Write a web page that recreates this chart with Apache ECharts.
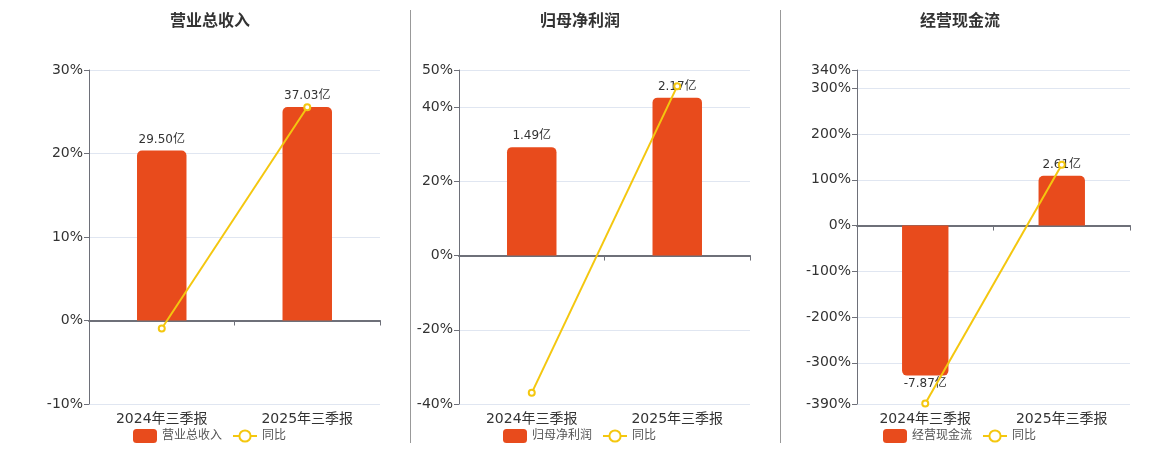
<!DOCTYPE html>
<html>
<head>
<meta charset="utf-8">
<script src="https://cdn.jsdelivr.net/npm/echarts@6/dist/echarts.min.js"></script>
<style>
  html, body { margin: 0; padding: 0; background: #fff; }
  #chart { width: 1160px; height: 450px; }
</style>
</head>
<body>
<div id="chart"></div>
<script>
const categories = ['2024年三季报', '2025年三季报'];
const panelNames = ['营业总收入', '归母净利润', '经营现金流'];

// bar values in 亿, yoy in %
const revenue = [29.50, 37.03];
const revenueYoy = [-0.96, 25.53];
const netProfit = [1.49, 2.17];
const netProfitYoy = [-37.0, 45.64];
const cashFlow = [-7.87, 2.61];
const cashFlowYoy = [-389, 133.16];

// percent axis ticks (first/last are the axis ends)
const pctTicks1 = [-10, 0, 10, 20, 30];
const pctTicks2 = [-40, -20, 0, 20, 40, 50];
const pctTicks3 = [-390, -300, -200, -100, 0, 100, 200, 300, 340];

// 亿 per 1% on the hidden bar axis of each panel
const barScale = [1.449, 0.051, 0.024];

const barValues = [revenue, netProfit, cashFlow];
const yoyValues = [revenueYoy, netProfitYoy, cashFlowYoy];
const pctTicks = [pctTicks1, pctTicks2, pctTicks3];

const font = "'DejaVu Sans', 'Noto Sans CJK SC', sans-serif";
const barColor = '#E84B1C';
const lineColor = '#F4C70F';

const grids = [
  { left: 89, top: 70, width: 291, height: 334 },
  { left: 459, top: 70, width: 291, height: 334 },
  { left: 857, top: 70, width: 273, height: 334 }
];
const titleX = [210, 580, 960];
const legendX = [133, 503, 883];

const chart = echarts.init(document.getElementById('chart'));

const xAxis = [], yAxis = [], series = [], legend = [], graphic = [];

panelNames.forEach((name, i) => {
  const ticks = pctTicks[i];
  const lo = ticks[0], hi = ticks[ticks.length - 1];

  // x axis sitting on the zero line (line + ticks only)
  xAxis.push({
    gridIndex: i,
    type: 'category',
    data: categories,
    axisLine: { onZero: true, lineStyle: { color: '#6E7079', width: 2 } },
    axisTick: { show: true, lineStyle: { color: '#6E7079' } },
    axisLabel: { show: false }
  });
  // x axis at the bottom that only carries the labels
  xAxis.push({
    gridIndex: i,
    type: 'category',
    position: 'bottom',
    data: categories,
    axisLine: { show: false, onZero: false },
    axisTick: { show: false },
    axisLabel: { fontSize: 14, color: '#333', fontFamily: font, margin: 8 }
  });

  yAxis.push({
    gridIndex: i,
    type: 'value',
    min: lo,
    max: hi,
    axisLine: { show: true, lineStyle: { color: '#6E7079' } },
    axisTick: { show: true, customValues: ticks, lineStyle: { color: '#6E7079' } },
    axisLabel: {
      customValues: ticks,
      formatter: '{value}%',
      fontSize: 14,
      color: '#333',
      fontFamily: font,
      margin: 6
    },
    splitLine: { show: true, lineStyle: { color: '#E0E6F1' } }
  });
  yAxis.push({
    gridIndex: i,
    type: 'value',
    show: false,
    min: lo * barScale[i],
    max: hi * barScale[i],
    splitLine: { show: false }
  });

  series.push({
    name: name,
    type: 'bar',
    xAxisIndex: 2 * i,
    yAxisIndex: 2 * i + 1,
    barWidth: '34%',
    z: 2,
    data: barValues[i].map(v => ({
      value: v,
      itemStyle: { borderRadius: v >= 0 ? [5, 5, 0, 0] : [0, 0, 5, 5] },
      label: { position: v >= 0 ? 'top' : 'bottom', distance: v >= 0 ? 5 : 2 }
    })),
    itemStyle: { color: barColor },
    label: {
      show: true,
      fontSize: 12,
      color: '#333',
      fontFamily: font,
      formatter: p => p.value.toFixed(2) + '亿'
    }
  });

  series.push({
    name: '同比',
    type: 'line',
    xAxisIndex: 2 * i,
    yAxisIndex: 2 * i,
    z: 5,
    data: yoyValues[i],
    symbol: 'emptyCircle',
    symbolSize: 6,
    itemStyle: { color: lineColor, borderWidth: 1.5 },
    lineStyle: { color: lineColor, width: 2 }
  });

  legend.push({
    left: legendX[i],
    top: 429,
    padding: 0,
    itemWidth: 24,
    itemHeight: 14,
    itemGap: 10,
    data: [name, '同比'],
    textStyle: { fontSize: 12, color: '#555', fontFamily: font }
  });

  graphic.push({
    type: 'text',
    x: titleX[i],
    y: 22,
    style: {
      text: name,
      font: 'bold 16px ' + font,
      fill: '#333',
      textAlign: 'center',
      textVerticalAlign: 'middle'
    }
  });
});

// panel dividers
[410.5, 780.5].forEach(x => {
  graphic.push({
    type: 'line',
    shape: { x1: x, y1: 10, x2: x, y2: 443 },
    style: { stroke: '#999', lineWidth: 1 }
  });
});

chart.setOption({
  animation: false,
  textStyle: { fontFamily: font },
  grid: grids.map(g => Object.assign({ outerBoundsMode: 'none', containLabel: false }, g)),
  xAxis: xAxis,
  yAxis: yAxis,
  legend: legend,
  graphic: graphic,
  series: series
});
</script>
</body>
</html>
